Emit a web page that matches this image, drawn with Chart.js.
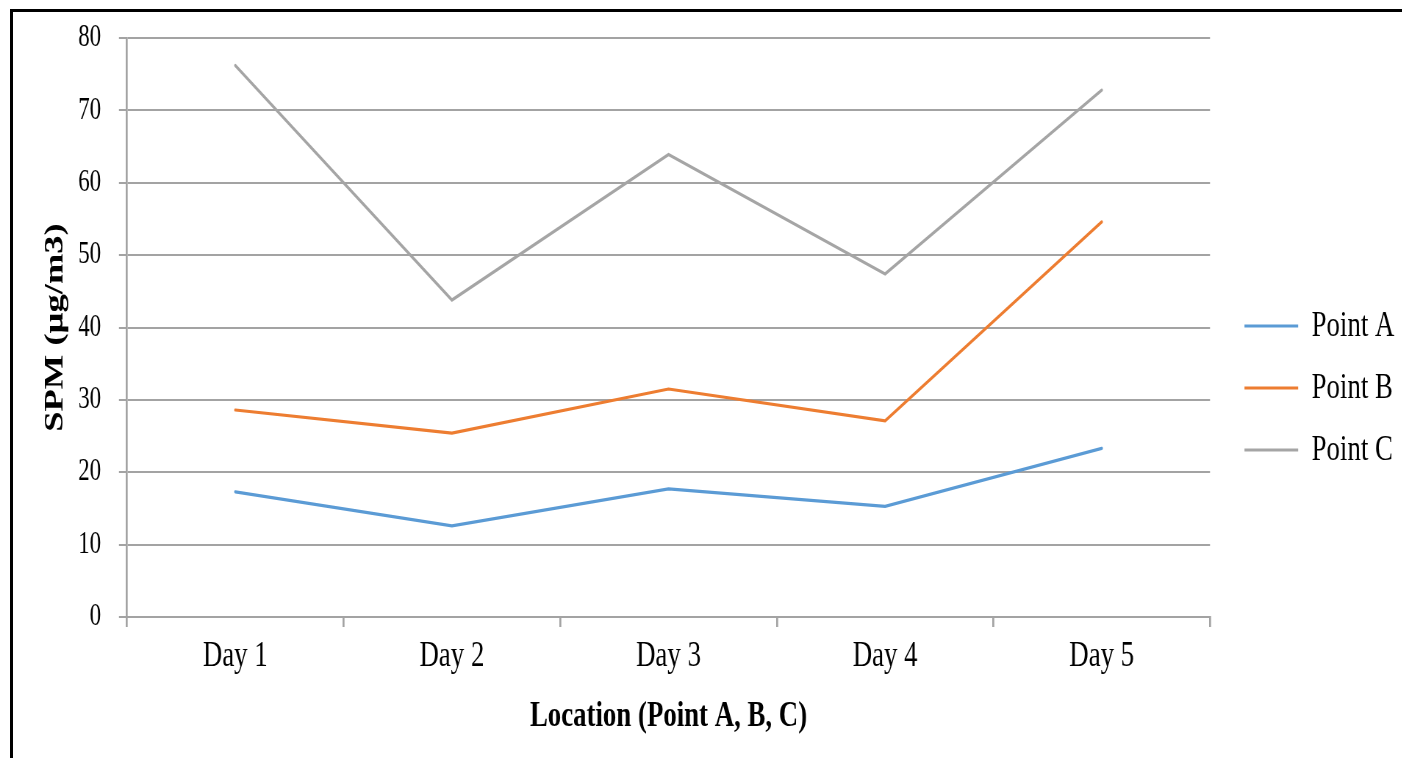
<!DOCTYPE html>
<html>
<head>
<meta charset="utf-8">
<script src="https://cdn.jsdelivr.net/npm/chart.js@4.4.1/dist/chart.umd.min.js"></script>
<style>
  html, body { margin: 0; padding: 0; background: #fff; overflow: hidden; }
  #wrap { position: relative; width: 1402px; height: 758px; overflow: hidden; background: #fff; }
  #frame { position: absolute; left: 10px; top: 9px; width: 1500px; height: 900px;
           border-left: 3px solid #000; border-top: 3px solid #000; box-sizing: border-box; }
  /* the chart is laid out wide and squeezed horizontally for the narrow serif look */
  #chart { position: absolute; left: 0; top: 0; transform: scaleX(0.735); transform-origin: 0 0; }
</style>
</head>
<body>
<div id="wrap">
  <div id="frame"></div>
  <canvas id="chart" width="1907" height="758"></canvas>
</div>
<script>
// SPM readings per day at three sampling points
const days = ['Day 1', 'Day 2', 'Day 3', 'Day 4', 'Day 5'];
const pointA = [17.3, 12.6, 17.7, 15.3, 23.3];
const pointB = [28.6, 25.4, 31.5, 27.1, 54.6];
const pointC = [76.2, 43.8, 63.9, 47.4, 72.8];
const seriesNames = ['Point A', 'Point B', 'Point C'];
const yTicks = { min: 0, max: 80, step: 10 };

const GRID = '#a3a3a3';
const FONT = 'Liberation Serif';
const LEGEND_EXTRA = 21.4;

// widen the legend box so the plot stops short of it, keeping the entries in place
const legendSpacer = {
  id: 'legendSpacer',
  afterInit(chart) {
    const lg = chart.legend;
    const fit = lg.fit.bind(lg);
    const draw = lg.draw.bind(lg);
    lg.fit = function () { fit(); this.width += LEGEND_EXTRA; };
    lg.draw = function () { this.left += LEGEND_EXTRA; draw(); this.left -= LEGEND_EXTRA; };
  }
};

function line(label, data, color) {
  return {
    label, data,
    borderColor: color, backgroundColor: color,
    borderWidth: 3.2, pointRadius: 0, pointHoverRadius: 0,
    tension: 0, fill: false, borderCapStyle: 'round', borderJoinStyle: 'miter'
  };
}

new Chart(document.getElementById('chart'), {
  type: 'line',
  data: {
    labels: days,
    datasets: [
      line(seriesNames[0], pointA, '#5b9bd5'),
      line(seriesNames[1], pointB, '#ed7d31'),
      line(seriesNames[2], pointC, '#a5a5a5')
    ]
  },
  plugins: [legendSpacer],
  options: {
    responsive: false,
    animation: false,
    devicePixelRatio: 1,
    layout: { padding: { left: 20, right: 0, top: 38, bottom: 20 } },
    plugins: {
      tooltip: { enabled: false },
      legend: {
        position: 'right',
        labels: {
          usePointStyle: true, pointStyle: 'line', pointStyleWidth: 73,
          padding: 25.5, color: '#000',
          font: { family: FONT, size: 36.5 }
        }
      }
    },
    scales: {
      x: {
        offset: true,
        afterFit(scale) { scale.height = 121; },
        grid: { display: true, drawOnChartArea: false, drawTicks: true, tickLength: 10,
                offset: true, color: GRID, lineWidth: 2.7 },
        border: { display: true, color: GRID, width: 2 },
        ticks: { color: '#000', padding: 8, font: { family: FONT, size: 36.5 }, maxRotation: 0 },
        title: { display: true, text: 'Location (Point A, B, C)', color: '#000',
                 font: { family: FONT, size: 36.5, weight: 'bold' }, padding: { top: 0, bottom: 0 } }
      },
      y: {
        min: yTicks.min, max: yTicks.max,
        afterFit(scale) { scale.width = 152.8; },
        grid: { color: GRID, lineWidth: 2, tickLength: 11, drawTicks: true },
        border: { display: true, color: GRID, width: 2.7 },
        ticks: { stepSize: yTicks.step, color: '#000', padding: 24.4,
                 font: { family: FONT, size: 31, lineHeight: 0.87 } },
        title: { display: true, text: 'SPM (µg/m3)', color: '#000',
                 font: { family: FONT, size: 36.5, weight: 'bold' }, padding: { top: 33.6, bottom: 0 } }
      }
    }
  }
});
</script>
</body>
</html>
